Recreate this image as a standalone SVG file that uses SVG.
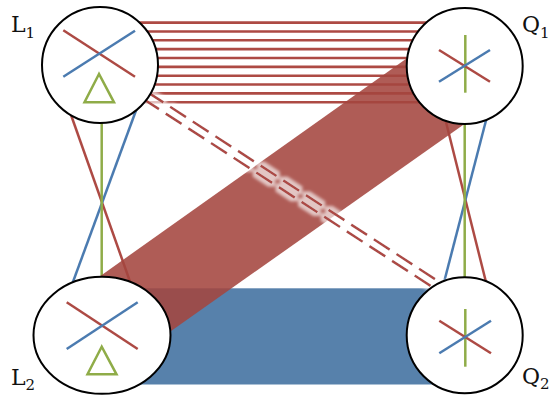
<svg xmlns="http://www.w3.org/2000/svg" width="551" height="396" viewBox="0 0 551 396">
<style>
.r{stroke:#ad4a44;stroke-width:2.5;fill:none}
.b{stroke:#4b7bb0;stroke-width:2.5;fill:none}
.g{stroke:#8fac48;stroke-width:2.5;fill:none}
.h{stroke:#ad4a44;stroke-width:2.6;fill:none}
.d{stroke:#ad4a44;stroke-width:2.6;fill:none;stroke-dasharray:19 8}
.node{fill:#fff;stroke:#000;stroke-width:2}
.lbl{font-family:"DejaVu Serif","Liberation Serif",serif;font-size:22px;fill:#111}
.sub{font-size:15px}
</style>
<defs>
<filter id="halo" x="-10%" y="-10%" width="120%" height="120%">
<feMorphology in="SourceAlpha" operator="dilate" radius="2.5" result="d"/>
<feGaussianBlur in="d" stdDeviation="1.6" result="bl"/>
<feFlood flood-color="#ffffff" flood-opacity="0.65"/>
<feComposite in2="bl" operator="in" result="hl"/>
<feMerge><feMergeNode in="hl"/><feMergeNode in="SourceGraphic"/></feMerge>
</filter>
</defs>
<g id="connectors">
<g id="parallel-lines">
<line class="h" x1="100" y1="22.6" x2="465" y2="22.6"/>
<line class="h" x1="100" y1="31.45" x2="465" y2="31.45"/>
<line class="h" x1="100" y1="40.3" x2="465" y2="40.3"/>
<line class="h" x1="100" y1="49.15" x2="465" y2="49.15"/>
<line class="h" x1="100" y1="58" x2="465" y2="58"/>
<line class="h" x1="100" y1="66.85" x2="465" y2="66.85"/>
<line class="h" x1="100" y1="75.7" x2="465" y2="75.7"/>
<line class="h" x1="100" y1="84.55" x2="465" y2="84.55"/>
<line class="h" x1="100" y1="93.4" x2="465" y2="93.4"/>
<line class="h" x1="100" y1="102.25" x2="465" y2="102.25"/>
</g>
<g id="L-cross">
<line class="r" x1="67.5" y1="105" x2="133" y2="290"/>
<line class="b" x1="138" y1="105" x2="70" y2="290"/>
<line class="g" x1="101.7" y1="110" x2="101.7" y2="290"/>
</g>
<g id="Q-cross">
<line class="r" x1="444.2" y1="115" x2="488" y2="290"/>
<line class="b" x1="488.2" y1="112" x2="442" y2="290"/>
<line class="g" x1="464.7" y1="110" x2="464.7" y2="290"/>
</g>
<rect id="blue-band" x="102" y="288.3" width="363" height="96.2" fill="#5781ab"/>
<polygon id="red-band" points="80,290.4 440,34.8 490,106.1 130,359.9" fill="#a4453f" fill-opacity="0.88"/>
<g id="dashed" filter="url(#halo)">
<line class="d" x1="97.8" y1="69.4" x2="449.8" y2="298.4"/>
<line class="d" x1="102.2" y1="62.6" x2="454.2" y2="291.6"/>
</g>
</g>
<g id="L1">
<circle class="node" cx="100" cy="65" r="58"/>
<line class="r" x1="63.3" y1="30.3" x2="135" y2="76.7"/>
<line class="b" x1="63.3" y1="76.7" x2="135" y2="30.7"/>
<polygon class="g" points="99,74 84.5,102.3 114,102.3"/>
<text class="lbl" x="11" y="32">L<tspan class="sub" dy="6">1</tspan></text>
</g>
<g id="Q1">
<circle class="node" cx="464.7" cy="66" r="58"/>
<line class="g" x1="465.3" y1="35" x2="465.3" y2="92.7"/>
<line class="r" x1="439" y1="50" x2="490" y2="81.7"/>
<line class="b" x1="439" y1="81.7" x2="490" y2="50"/>
<text class="lbl" x="522" y="32">Q<tspan class="sub" dy="6">1</tspan></text>
</g>
<g id="L2">
<ellipse class="node" cx="102" cy="335.3" rx="68.5" ry="58.5"/>
<line class="r" x1="66.7" y1="302.3" x2="137.7" y2="349"/>
<line class="b" x1="66.7" y1="349" x2="137.7" y2="302.3"/>
<polygon class="g" points="101.7,346.7 87.5,374.3 116.5,374.3"/>
<text class="lbl" x="11" y="385">L<tspan class="sub" dy="5">2</tspan></text>
</g>
<g id="Q2">
<circle class="node" cx="464.7" cy="335.3" r="58"/>
<line class="g" x1="465.3" y1="309" x2="465.3" y2="366.7"/>
<line class="r" x1="439.3" y1="320.7" x2="491" y2="353.3"/>
<line class="b" x1="439.3" y1="353.3" x2="491" y2="320.7"/>
<text class="lbl" x="522" y="384">Q<tspan class="sub" dy="5">2</tspan></text>
</g>
</svg>
